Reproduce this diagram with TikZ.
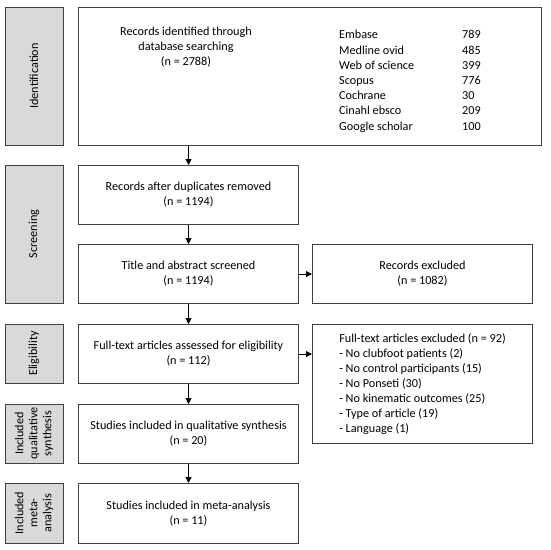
\documentclass[tikz,border=0pt]{standalone}
\usepackage{fontspec}
\setmainfont{Carlito}
\usetikzlibrary{arrows.meta}

\begin{document}
\begin{tikzpicture}[x=1pt, y=-1pt,
    phase/.style={draw=black!75, fill=black!15, line width=1pt, rotate=90,
      minimum height=58pt, inner sep=0pt, align=center,
      font=\fontsize{12.2}{14}\selectfont},
    stepbox/.style={draw=black!75, line width=1pt, anchor=north west,
      minimum width=220pt, minimum height=59pt, inner sep=0pt, align=center,
      font=\fontsize{12.2}{15}\selectfont},
    link/.style={-{Triangle[length=6pt, width=6pt]}, line width=1pt}]
    \useasboundingbox (0,0) rectangle (550,550);

    % 阶段标签(灰色竖框)
    \node[phase, minimum width=138pt] (pid) at (34,76) {Identification};
    \node[phase, minimum width=138pt] (pscr) at (34,234) {Screening};
    \node[phase, minimum width=59pt] (pel) at (34,353.5) {Eligibility};
    \node[phase, minimum width=59pt] (pqual) at (34,433.5) {Included\\qualitative\\synthesis};
    \node[phase, minimum width=60pt] (pmeta) at (34,513) {Included\\meta-\\analysis};

    % 主流程框
    \node[stepbox, minimum width=463pt, minimum height=138pt] (ident) at (78,7) {};
    \node[font=\fontsize{12.2}{15}\selectfont, align=center] (identtxt) at (186,47.5)
      {Records identified through\\database searching\\(n = 2788)};
    \node[anchor=west, inner sep=0pt, font=\fontsize{12.2}{15.2}\selectfont] (dbs) at (339,81.5)
      {\begin{tabular}{@{}p{123pt}@{}l@{}}
        Embase & 789\\
        Medline ovid & 485\\
        Web of science & 399\\
        Scopus & 776\\
        Cochrane & 30\\
        Cinahl ebsco & 209\\
        Google scholar & 100
      \end{tabular}};

    \node[stepbox] (dedup) at (78,165) {Records after duplicates removed\\(n = 1194)};
    \node[stepbox] (screen) at (78,244) {Title and abstract screened\\(n = 1194)};
    \node[stepbox] (excl) at (312,244) {Records excluded\\(n = 1082)};
    \node[stepbox] (full) at (78,324) {Full-text articles assessed for eligibility\\(n = 112)};
    \node[stepbox, minimum height=119pt, align=left] (fullexcl) at (312,324)
      {Full-text articles excluded (n = 92)\\
       - No clubfoot patients (2)\\
       - No control participants (15)\\
       - No Ponseti (30)\\
       - No kinematic outcomes (25)\\
       - Type of article (19)\\
       - Language (1)};
    \node[stepbox] (qual) at (78,404) {Studies included in qualitative synthesis\\(n = 20)};
    \node[stepbox, minimum height=60pt] (meta) at (78,483) {Studies included in meta-analysis\\(n = 11)};

    % 箭头
    \draw[link] (dedup.north |- ident.south) -- (dedup.north);
    \draw[link] (dedup) -- (screen);
    \draw[link] (screen) -- (excl);
    \draw[link] (screen) -- (full);
    \draw[link] (full) -- (fullexcl.west |- full.east);
    \draw[link] (full) -- (qual);
    \draw[link] (qual) -- (meta);
\end{tikzpicture}
\end{document}
